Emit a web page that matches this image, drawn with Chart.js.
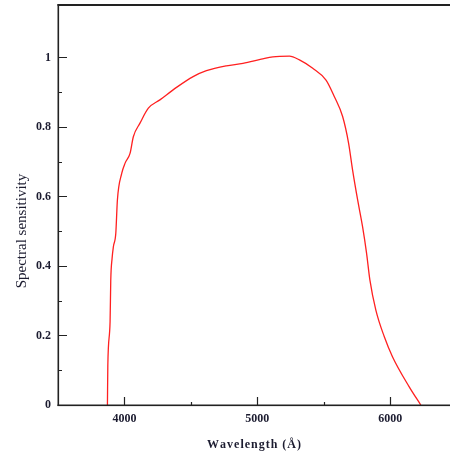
<!DOCTYPE html>
<html>
<head>
<meta charset="utf-8">
<script src="https://cdn.jsdelivr.net/npm/chart.js@4"></script>
<style>
  html, body { margin: 0; padding: 0; background: #fff; }
  #wrap { width: 450px; height: 452px; position: relative; }
</style>
</head>
<body>
<div id="wrap"><canvas id="chart"></canvas></div>
<script>
// wavelength (Angstrom) and spectral sensitivity
const wavelength = [3872, 3875, 3892, 3897, 3907, 3917, 3935, 3947, 3980, 4005, 4042, 4067, 4117, 4180, 4267, 4392, 4517, 4617, 4767, 4892, 5030, 5117, 5242, 5317, 5417, 5517, 5580, 5642, 5687, 5717, 5755, 5792, 5822, 5847, 5892, 5955, 6017, 6142, 6230];
const sensitivity = [0, 0.115, 0.24, 0.358, 0.422, 0.456, 0.494, 0.59, 0.667, 0.696, 0.724, 0.772, 0.811, 0.854, 0.878, 0.914, 0.945, 0.962, 0.976, 0.983, 0.995, 1.002, 1.004, 0.993, 0.969, 0.935, 0.887, 0.83, 0.753, 0.676, 0.59, 0.513, 0.437, 0.36, 0.273, 0.197, 0.139, 0.053, 0];

const xMajor = [4000, 5000, 6000];
const xMinor = [4500, 5500];
const yMajor = [0, 0.2, 0.4, 0.6, 0.8, 1];
const yMinor = [0.1, 0.3, 0.5, 0.7, 0.9];

const points = wavelength.map((w, i) => ({ x: w, y: sensitivity[i] }));

// frame, inward ticks and the y title (sits a bit below centre in the original)
const framePlugin = {
  id: 'frame',
  afterDraw(chart) {
    const { ctx, chartArea: a, scales: { x, y } } = chart;
    ctx.save();
    ctx.fillStyle = '#222';
    ctx.fillRect(a.left - 0.5, a.top - 1, a.right - a.left + 1, 2);   // top
    ctx.fillRect(a.left - 0.5, a.top - 1, 1.6, a.bottom - a.top + 2); // left
    ctx.fillRect(a.left - 0.5, a.bottom - 0.5, a.right - a.left + 1, 1.6); // bottom

    ctx.strokeStyle = '#222';
    ctx.lineWidth = 1.2;
    ctx.beginPath();
    xMajor.forEach(v => { const p = Math.round(x.getPixelForValue(v)) + 0.5; ctx.moveTo(p, a.bottom); ctx.lineTo(p, a.bottom - 8); });
    xMinor.forEach(v => { const p = Math.round(x.getPixelForValue(v)) + 0.5; ctx.moveTo(p, a.bottom); ctx.lineTo(p, a.bottom - 3); });
    yMajor.forEach(v => { const p = Math.round(y.getPixelForValue(v)) + 0.5; ctx.moveTo(a.left, p); ctx.lineTo(a.left + 9, p); });
    yMinor.forEach(v => { const p = Math.round(y.getPixelForValue(v)) + 0.5; ctx.moveTo(a.left, p); ctx.lineTo(a.left + 4, p); });
    ctx.stroke();

    ctx.translate(22, 231);
    ctx.rotate(-Math.PI / 2);
    ctx.fillStyle = '#1c1c30';
    ctx.font = '15px "Liberation Serif"';
    ctx.textAlign = 'center';
    ctx.textBaseline = 'middle';
    ctx.fillText('Spectral sensitivity', 0, 0);
    ctx.restore();
  }
};

new Chart(document.getElementById('chart'), {
  type: 'line',
  data: {
    datasets: [{
      data: points,
      borderColor: '#ff2020',
      borderWidth: 1.3,
      pointRadius: 0,
      cubicInterpolationMode: 'monotone',
      fill: false
    }]
  },
  options: {
    responsive: true,
    maintainAspectRatio: false,
    animation: false,
    layout: { padding: { left: 0, right: 0, top: 5, bottom: 0 } },
    plugins: { legend: { display: false }, tooltip: { enabled: false } },
    scales: {
      x: {
        type: 'linear',
        min: 3500,
        max: 6450,
        afterBuildTicks: s => { s.ticks = xMajor.map(v => ({ value: v })); },
        afterFit: s => { s.height = 47; s.paddingLeft = 0; s.paddingRight = 0; },
        grid: { display: false, drawTicks: false },
        border: { display: false },
        ticks: {
          color: '#1c1c30',
          padding: 7,
          maxRotation: 0,
          font: { family: 'Liberation Serif', size: 12, weight: 'bold' },
          callback: v => String(v)
        },
        title: {
          display: true,
          text: 'W\u200Aa\u200Av\u200Ae\u200Al\u200Ae\u200An\u200Ag\u200At\u200Ah\u2009\u2009(\u200AÅ\u200A)',
          color: '#1c1c30',
          padding: { top: 5, bottom: 0 },
          font: { family: 'Liberation Serif', size: 12, weight: 'bold' }
        }
      },
      y: {
        min: 0,
        max: 1.151,
        afterBuildTicks: s => { s.ticks = yMajor.map(v => ({ value: v })); },
        afterFit: s => { s.width = 58; s.paddingTop = 0; s.paddingBottom = 0; },
        grid: { display: false, drawTicks: false },
        border: { display: false },
        ticks: {
          color: '#1c1c30',
          padding: 7,
          font: { family: 'Liberation Serif', size: 12, weight: 'bold' },
          callback: v => String(Math.round(v * 10) / 10)
        }
      }
    }
  },
  plugins: [framePlugin]
});
</script>
</body>
</html>
